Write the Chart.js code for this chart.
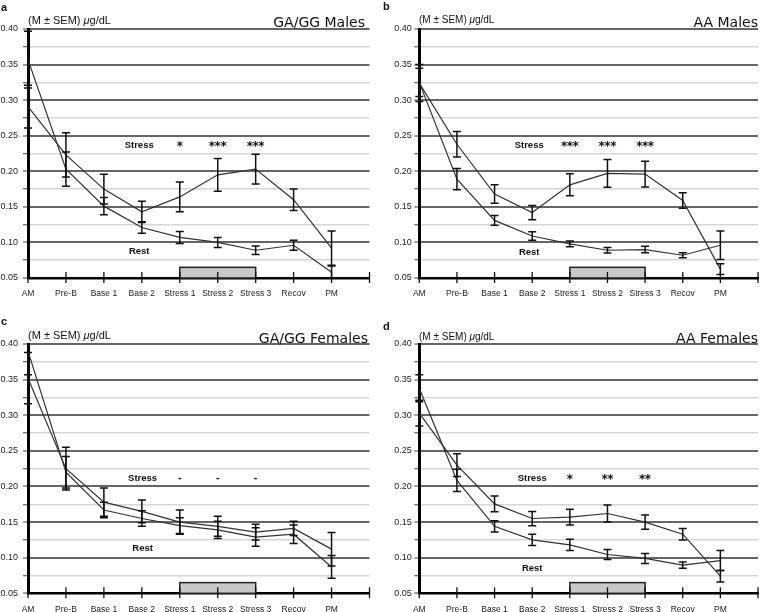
<!DOCTYPE html>
<html><head><meta charset="utf-8">
<script src="https://cdn.jsdelivr.net/npm/chart.js@4.4.1/dist/chart.umd.min.js"></script>
<style>
body{margin:0;background:#fff;width:761px;height:612px;overflow:hidden;position:relative;font-family:"Liberation Sans",Arial,sans-serif;color:#111}
canvas{position:absolute}
.letter{position:absolute;font-weight:bold;font-size:11px;line-height:11px}
.units{position:absolute;font-size:11px;line-height:11px;white-space:nowrap}
.units.n{font-size:10px;line-height:10px}
.title{position:absolute;font-family:"DejaVu Sans";font-size:14px;line-height:14px;white-space:nowrap;text-align:right}
</style></head><body>
<canvas id="ca" width="380" height="306" style="left:0;top:0"></canvas>
<canvas id="cb" width="381" height="306" style="left:380px;top:0"></canvas>
<canvas id="cc" width="380" height="306" style="left:0;top:306px"></canvas>
<canvas id="cd" width="381" height="306" style="left:380px;top:306px"></canvas>

<div class="letter" style="left:1px;top:2.4px">a</div>
<div class="letter" style="left:383px;top:1.4px">b</div>
<div class="letter" style="left:1px;top:315.7px">c</div>
<div class="letter" style="left:383px;top:320.7px">d</div>

<div class="units" style="left:28px;top:14.7px">(M ± SEM) <i>μ</i>g/dL</div>
<div class="units n" style="left:419px;top:15px">(M ± SEM) <i>μ</i>g/dL</div>
<div class="units" style="left:28px;top:329.7px">(M ± SEM) <i>μ</i>g/dL</div>
<div class="units n" style="left:419px;top:331.5px">(M ± SEM) <i>μ</i>g/dL</div>

<div class="title" style="right:396px;top:14.8px">GA/GG Males</div>
<div class="title" style="right:3px;top:14.8px">AA Males</div>
<div class="title" style="right:393px;top:330.8px">GA/GG Females</div>
<div class="title" style="right:3px;top:331px">AA Females</div>

<script>
const categories = ['AM','Pre-B','Base 1','Base 2','Stress 1','Stress 2','Stress 3','Recov','PM'];
const xLabels = categories.concat(['']);
const yMin = 0.05, yMax = 0.40, yStep = 0.025;

// a: GA/GG Males
const stressA    = [0.291, 0.223, 0.175, 0.143, 0.164, 0.195, 0.203, 0.160, 0.092];
const stressErrA = [0.030, 0.031, 0.021, 0.015, 0.021, 0.023, 0.021, 0.015, 0.024];
const restA      = [0.357, 0.203, 0.151, 0.121, 0.107, 0.100, 0.089, 0.096, 0.058];
const restErrA   = [0.040, 0.024, 0.012, 0.008, 0.0085, 0.007, 0.006, 0.007, 0.009];
const sigA = ['*', '***', '***'];

// b: AA Males
const stressB    = [0.324, 0.238, 0.168, 0.142, 0.181, 0.197, 0.196, 0.159, 0.0625];
const stressErrB = [0.026, 0.018, 0.013, 0.010, 0.0155, 0.0195, 0.018, 0.011, 0.0075];
const restB      = [0.325, 0.189, 0.131, 0.109, 0.098, 0.089, 0.090, 0.082, 0.096];
const restErrB   = [0.020, 0.015, 0.007, 0.006, 0.004, 0.004, 0.0045, 0.0035, 0.020];
const sigB = ['***', '***', '***'];

// c: GA/GG Females
const stressC    = [0.352, 0.225, 0.178, 0.165, 0.150, 0.144, 0.136, 0.141, 0.112];
const stressErrC = [0.036, 0.030, 0.020, 0.016, 0.017, 0.014, 0.011, 0.010, 0.0235];
const restC      = [0.390, 0.220, 0.167, 0.155, 0.145, 0.139, 0.129, 0.133, 0.087];
const restErrC   = [0.033, 0.022, 0.011, 0.011, 0.011, 0.012, 0.013, 0.013, 0.016];
const sigC = ['-', '-', '-'];

// d: AA Females
const stressD    = [0.303, 0.230, 0.1755, 0.155, 0.157, 0.162, 0.150, 0.133, 0.074];
const stressErrD = [0.018, 0.016, 0.011, 0.010, 0.011, 0.012, 0.010, 0.008, 0.008];
const restD      = [0.338, 0.2085, 0.144, 0.125, 0.118, 0.1045, 0.099, 0.0895, 0.096];
const restErrD   = [0.019, 0.0157, 0.008, 0.008, 0.008, 0.007, 0.007, 0.0045, 0.014];
const sigD = ['*', '**', '**'];

const sigColumns = [4, 5, 6];
const stressPeriod = [4, 6];
const stressBoxTop = 0.065;

const panels = [
  {id:'ca', s:stressA, se:stressErrA, r:restA, re:restErrA, sig:sigA, sy:0.237, ry:0.0874, lx:2.93, yW:28, top:29, right:10.5, xH:28, lp:5},
  {id:'cb', s:stressB, se:stressErrB, r:restB, re:restErrB, sig:sigB, sy:0.2365, ry:0.0865, lx:2.92, yW:39.3, top:29, right:0.5, xH:28, lp:2.5},
  {id:'cc', s:stressC, se:stressErrC, r:restC, re:restErrC, sig:sigC, sy:0.212, ry:0.1126, lx:3.02, yW:28, top:38, right:10.5, xH:18.7, lp:5},
  {id:'cd', s:stressD, se:stressErrD, r:restD, re:restErrD, sig:sigD, sy:0.2116, ry:0.085, lx:3.0, yW:39.3, top:38, right:0.5, xH:18.7, lp:2.5}
];

function makePanel(p) {
  const extras = {
    id: 'extras',
    beforeDatasetsDraw(chart) {
      const {ctx, scales:{x, y}} = chart;
      const x0 = x.getPixelForValue(stressPeriod[0]), x1 = x.getPixelForValue(stressPeriod[1]);
      const y0 = y.getPixelForValue(yMin), y1 = y.getPixelForValue(stressBoxTop);
      ctx.save();
      ctx.fillStyle = '#c8c8c8';
      ctx.fillRect(x0, y1, x1 - x0, y0 - y1);
      ctx.strokeStyle = '#222'; ctx.lineWidth = 1.5;
      ctx.strokeRect(x0, y1, x1 - x0, y0 - y1);
      ctx.restore();
    },
    afterDatasetsDraw(chart) {
      const {ctx, chartArea, scales:{x, y}} = chart;
      ctx.save();
      ctx.save();
      ctx.beginPath();
      ctx.rect(chartArea.left - 10, chartArea.top - 1, chartArea.right - chartArea.left + 20, chartArea.bottom - chartArea.top + 2);
      ctx.clip();
      ctx.strokeStyle = '#111'; ctx.lineWidth = 1.5;
      chart.data.datasets.forEach(ds => {
        ds.data.forEach((v, i) => {
          const e = ds.err[i];
          const px = x.getPixelForValue(i);
          const yt = y.getPixelForValue(v + e), yb = y.getPixelForValue(v - e);
          ctx.beginPath();
          ctx.moveTo(px, yt); ctx.lineTo(px, yb);
          ctx.moveTo(px - 4, yt); ctx.lineTo(px + 4, yt);
          ctx.moveTo(px - 4, yb); ctx.lineTo(px + 4, yb);
          ctx.stroke();
        });
      });
      ctx.restore();
      ctx.strokeStyle = '#111'; ctx.lineWidth = 1.3;
      for (let i = 0; i < xLabels.length; i++) {
        const px = x.getPixelForValue(i);
        ctx.beginPath();
        ctx.moveTo(px, chartArea.bottom - 6); ctx.lineTo(px, chartArea.bottom + 5);
        ctx.stroke();
      }
      ctx.fillStyle = '#111';
      ctx.textAlign = 'center'; ctx.textBaseline = 'middle';
      ctx.font = 'bold 9.5px "Liberation Sans"';
      ctx.fillText('Stress', x.getPixelForValue(p.lx), y.getPixelForValue(p.sy));
      ctx.fillText('Rest', x.getPixelForValue(p.lx), y.getPixelForValue(p.ry));
      p.sig.forEach((str, k) => {
        const cx = x.getPixelForValue(sigColumns[k]);
        const cy = y.getPixelForValue(p.sy);
        if (str === '-') {
          ctx.font = 'bold 11px "Liberation Sans"';
          ctx.fillText('-', cx, cy);
        } else {
          ctx.font = 'bold 12px "DejaVu Sans"';
          const n = str.length;
          for (let j = 0; j < n; j++) ctx.fillText(str[j], cx + (j - (n - 1) / 2) * 5.8, cy + 2);
        }
      });
      ctx.restore();
    }
  };

  new Chart(document.getElementById(p.id), {
    type: 'line',
    data: {
      labels: xLabels,
      datasets: [
        {label: 'Stress', data: p.s, err: p.se, borderColor: '#333', borderWidth: 1.2, pointRadius: 0, tension: 0, fill: false},
        {label: 'Rest', data: p.r, err: p.re, borderColor: '#333', borderWidth: 1.2, pointRadius: 0, tension: 0, fill: false}
      ]
    },
    options: {
      responsive: false, animation: false, devicePixelRatio: 1,
      layout: {padding: {top: p.top, right: p.right, left: 0, bottom: 0}},
      plugins: {legend: {display: false}, tooltip: {enabled: false}},
      scales: {
        x: {
          type: 'category', offset: false,
          grid: {display: false},
          border: {display: true, color: '#000', width: 2.5},
          ticks: {autoSkip: false, maxRotation: 0, padding: 3, color: '#222', font: {family: '"Liberation Sans"', size: 8.5}},
          afterFit: s => { s.height = p.xH; }
        },
        y: {
          min: yMin, max: yMax,
          grid: {
            color: c => (c.index % 2 === 0 ? '#666' : '#d6d6d6'),
            lineWidth: c => (c.index % 2 === 0 ? 2 : 1.5),
            drawTicks: true, tickLength: 5, tickColor: '#444', tickWidth: 1
          },
          border: {display: true, color: '#000', width: 3},
          ticks: {
            stepSize: yStep, maxTicksLimit: 20, autoSkip: false, padding: p.lp, color: '#222',
            font: {family: '"Liberation Sans"', size: 9},
            callback: (v, i) => (i % 2 === 0 ? Number(v).toFixed(2) : '')
          },
          afterFit: s => { s.width = p.yW; }
        }
      }
    },
    plugins: [extras]
  });
}

panels.forEach(makePanel);
</script>
</body></html>
